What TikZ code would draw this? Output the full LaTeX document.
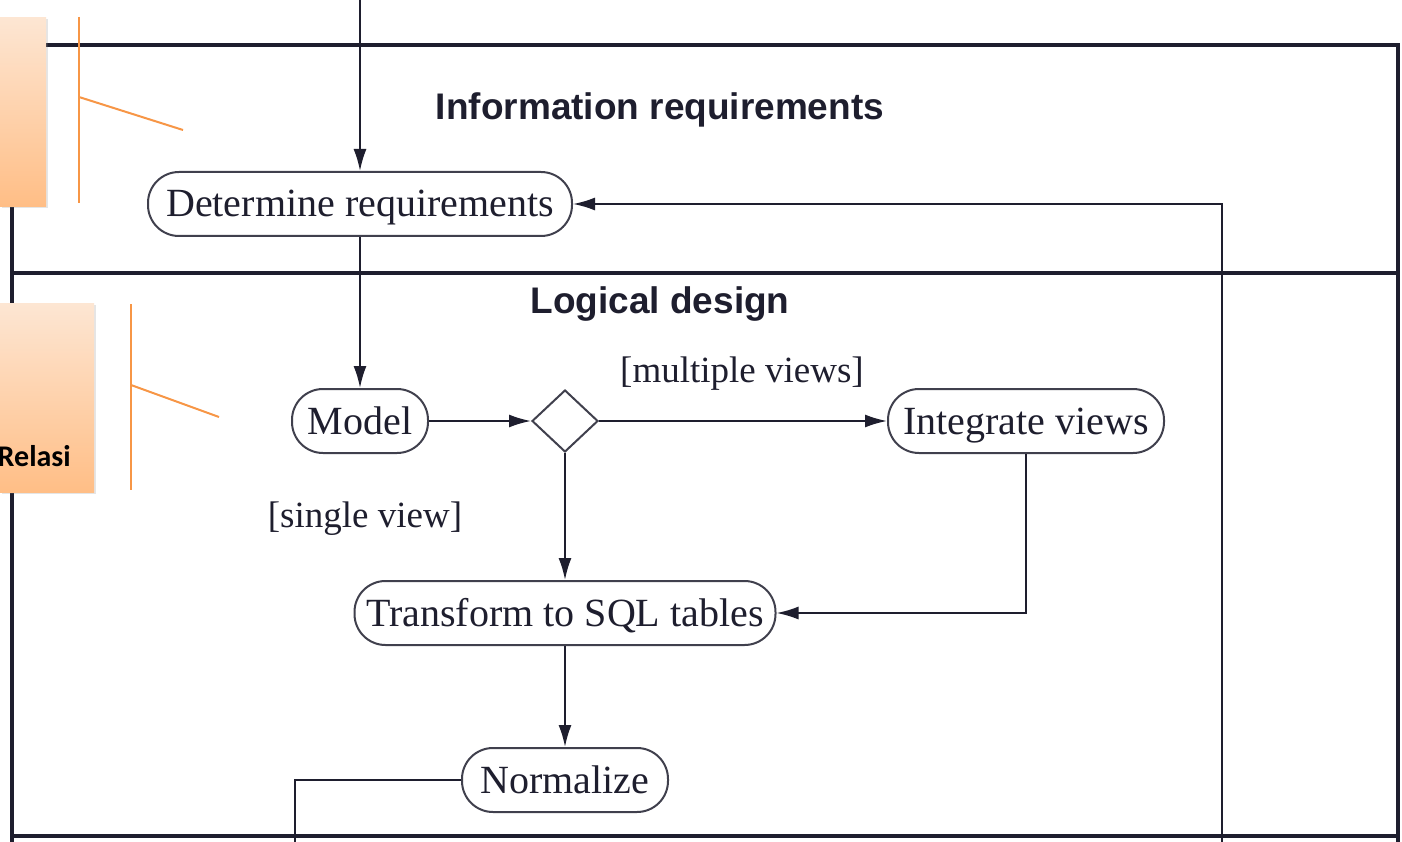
\documentclass[tikz,border=0pt]{standalone}
\usepackage{fontspec}
\setmainfont{Liberation Serif}
\newfontfamily\headfont{Liberation Sans}
\newfontfamily\calloutfont{Carlito}
\usetikzlibrary{arrows.meta,shapes.geometric,shadows}
\definecolor{ink}{HTML}{1E1E2E}
\definecolor{calloutline}{HTML}{F79646}
\definecolor{callouttop}{HTML}{FDE6D3}
\definecolor{calloutbot}{HTML}{FFBE86}
\tikzset{
  x=1pt, y=-1pt,
  frame/.style={line width=4.5pt, draw=ink},
  flow/.style={line width=2pt, draw=ink},
  arr/.style={flow, -{Latex[length=22pt,width=13pt]}},
  activity/.style={draw=ink!85, line width=2pt, rounded corners=31pt,
    minimum height=64pt, inner sep=0pt, text=ink, text height=30pt, text depth=4pt,
    font=\fontsize{40}{44}\selectfont},
  decision/.style={diamond, draw=ink!85, line width=2pt, inner sep=0pt,
    minimum width=66pt, minimum height=62pt, aspect=1},
  guard/.style={text=ink, font=\fontsize{37}{42}\selectfont},
  lanetitle/.style={text=ink, font=\headfont\bfseries\fontsize{37}{40}\selectfont},
  calloutbox/.style={top color=callouttop, bottom color=calloutbot, draw=none,
    drop shadow={opacity=0.2, shadow xshift=2pt, shadow yshift=-2pt}},
  calloutleg/.style={draw=calloutline, line width=2pt}
}
\begin{document}
\begin{tikzpicture}
\useasboundingbox (0,0) rectangle (1402,842);
\fill[white] (0,0) rectangle (1402,842);

% swimlane frame
\draw[frame] (12,45) -- (1398,45) -- (1398,842);
\draw[frame] (12,45) -- (12,842);
\draw[frame] (12,273) -- (1398,273);
\draw[frame] (12,836) -- (1398,836);

\node[lanetitle] (t1) at (660,110) {Information requirements};
\node[lanetitle] (t2) at (660,304) {Logical design};

% activities
\node[activity, minimum width=424pt] (det) at (360,204) {Determine requirements};
\node[activity, minimum width=136pt] (model) at (360,421) {Model};
\node[decision] (dec) at (565,421) {};
\node[activity, minimum width=276pt] (integ) at (1026,421) {Integrate views};
\node[activity, minimum width=421pt] (sql) at (565,613) {Transform to SQL tables};
\node[activity, minimum width=206pt] (norm) at (565,780) {Normalize};

\node[guard] (multi) at (742,374) {[multiple views]};
\node[guard] (single) at (365,519) {[single view]};

% connectors
\coordinate (entry) at (360,0);
\coordinate (backin) at (1222,842);
\coordinate (exitout) at (295,842);
\draw[arr] (entry) -- (det.north);
\draw[arr] (det.south) -- (model.north);
\draw[arr] (model.east) -- (dec.west);
\draw[arr] (dec.east) -- (integ.west);
\draw[arr] (dec.south) -- (sql.north);
\draw[arr] (integ.south) |- (sql.east);
\draw[arr] (sql.south) -- (norm.north);
\draw[arr] (backin) |- (det.east);
\draw[flow] (norm.west) -| (exitout);

% callouts
\node[calloutbox, minimum width=46pt, minimum height=189pt, inner sep=0pt,
      anchor=north west] (c1) at (0,17) {};
\coordinate (c1top) at (79,17);
\coordinate (c1bot) at (79,203);
\coordinate (c1knee) at (79,97);
\coordinate (c1tip) at (183,130);
\draw[calloutleg] (c1top) -- (c1bot);
\draw[calloutleg] (c1knee) -- (c1tip);

\node[calloutbox, minimum width=94pt, minimum height=189pt, inner sep=0pt,
      anchor=north west] (c2) at (0,303) {};
\node[anchor=east, inner sep=0pt, font=\calloutfont\bfseries\fontsize{30}{32}\selectfont]
      (c2text) at (71,456) {Relasi};
\coordinate (c2top) at (131,304);
\coordinate (c2bot) at (131,490);
\coordinate (c2knee) at (131,385);
\coordinate (c2tip) at (219,417);
\draw[calloutleg] (c2top) -- (c2bot);
\draw[calloutleg] (c2knee) -- (c2tip);
\end{tikzpicture}
\end{document}
